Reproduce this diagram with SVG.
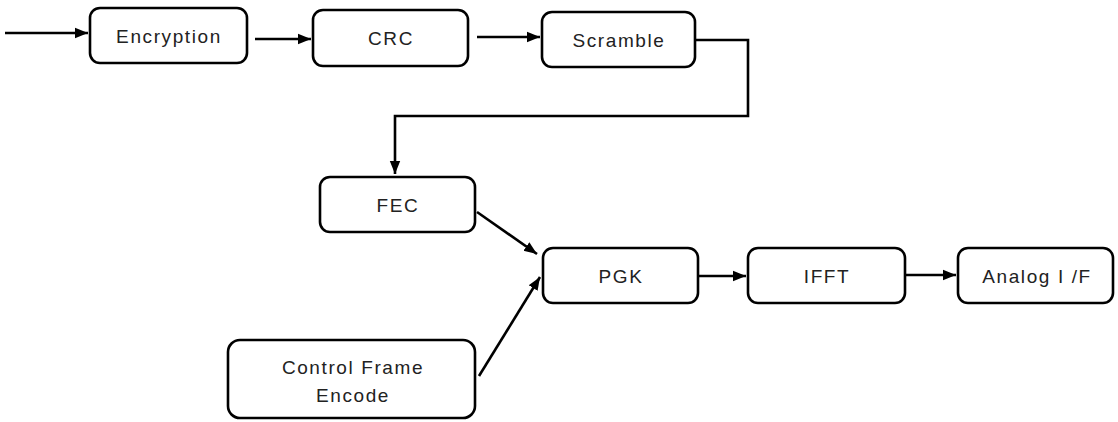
<svg xmlns="http://www.w3.org/2000/svg" width="1118" height="422" viewBox="0 0 1118 422">
<defs>
<marker id="ah" viewBox="0 0 10 10" refX="10" refY="5" markerWidth="5" markerHeight="5" orient="auto" markerUnits="strokeWidth">
<path d="M0,1 L10,5 L0,9 z" fill="#000"/>
</marker>
<style>
.box{fill:#fff;stroke:#000;stroke-width:2.6}
.lbl{font-family:"Liberation Sans",Arial,sans-serif;font-size:19px;letter-spacing:1.6px;fill:#222;text-anchor:middle;dominant-baseline:central}
.c{fill:none;stroke:#000;stroke-width:2.6}
</style>
</defs>
<rect width="1118" height="422" fill="#fff"/>
<g id="connectors">
<path class="c" d="M5,33 H88" marker-end="url(#ah)"/>
<path class="c" d="M255,39 H311" marker-end="url(#ah)"/>
<path class="c" d="M477,37 H540" marker-end="url(#ah)"/>
<path class="c" d="M696,40 H748 V116 H395 V174" marker-end="url(#ah)"/>
<path class="c" d="M477,212 L537,254" marker-end="url(#ah)"/>
<path class="c" d="M479,376 L540,277" marker-end="url(#ah)"/>
<path class="c" d="M699,276 H746" marker-end="url(#ah)"/>
<path class="c" d="M906,275 H956" marker-end="url(#ah)"/>
</g>
<g id="encryption"><rect class="box" x="90" y="8" width="157" height="55" rx="10"/><text class="lbl" x="169" y="36">Encryption</text></g>
<g id="crc"><rect class="box" x="313" y="10" width="155" height="56" rx="10"/><text class="lbl" x="391" y="38">CRC</text></g>
<g id="scramble"><rect class="box" x="542" y="12" width="153" height="55" rx="10"/><text class="lbl" x="619" y="40">Scramble</text></g>
<g id="fec"><rect class="box" x="320" y="177" width="155" height="55" rx="10"/><text class="lbl" x="398" y="205">FEC</text></g>
<g id="pgk"><rect class="box" x="543" y="248" width="155" height="55" rx="10"/><text class="lbl" x="621" y="276">PGK</text></g>
<g id="ifft"><rect class="box" x="748" y="248" width="157" height="55" rx="10"/><text class="lbl" x="827" y="276">IFFT</text></g>
<g id="analog"><rect class="box" x="958" y="248" width="155" height="55" rx="10"/><text class="lbl" x="1037" y="276">Analog I /F</text></g>
<g id="control"><rect class="box" x="228" y="340" width="247" height="78" rx="12"/><text class="lbl" x="353" y="367">Control Frame</text><text class="lbl" x="353" y="395">Encode</text></g>
</svg>
